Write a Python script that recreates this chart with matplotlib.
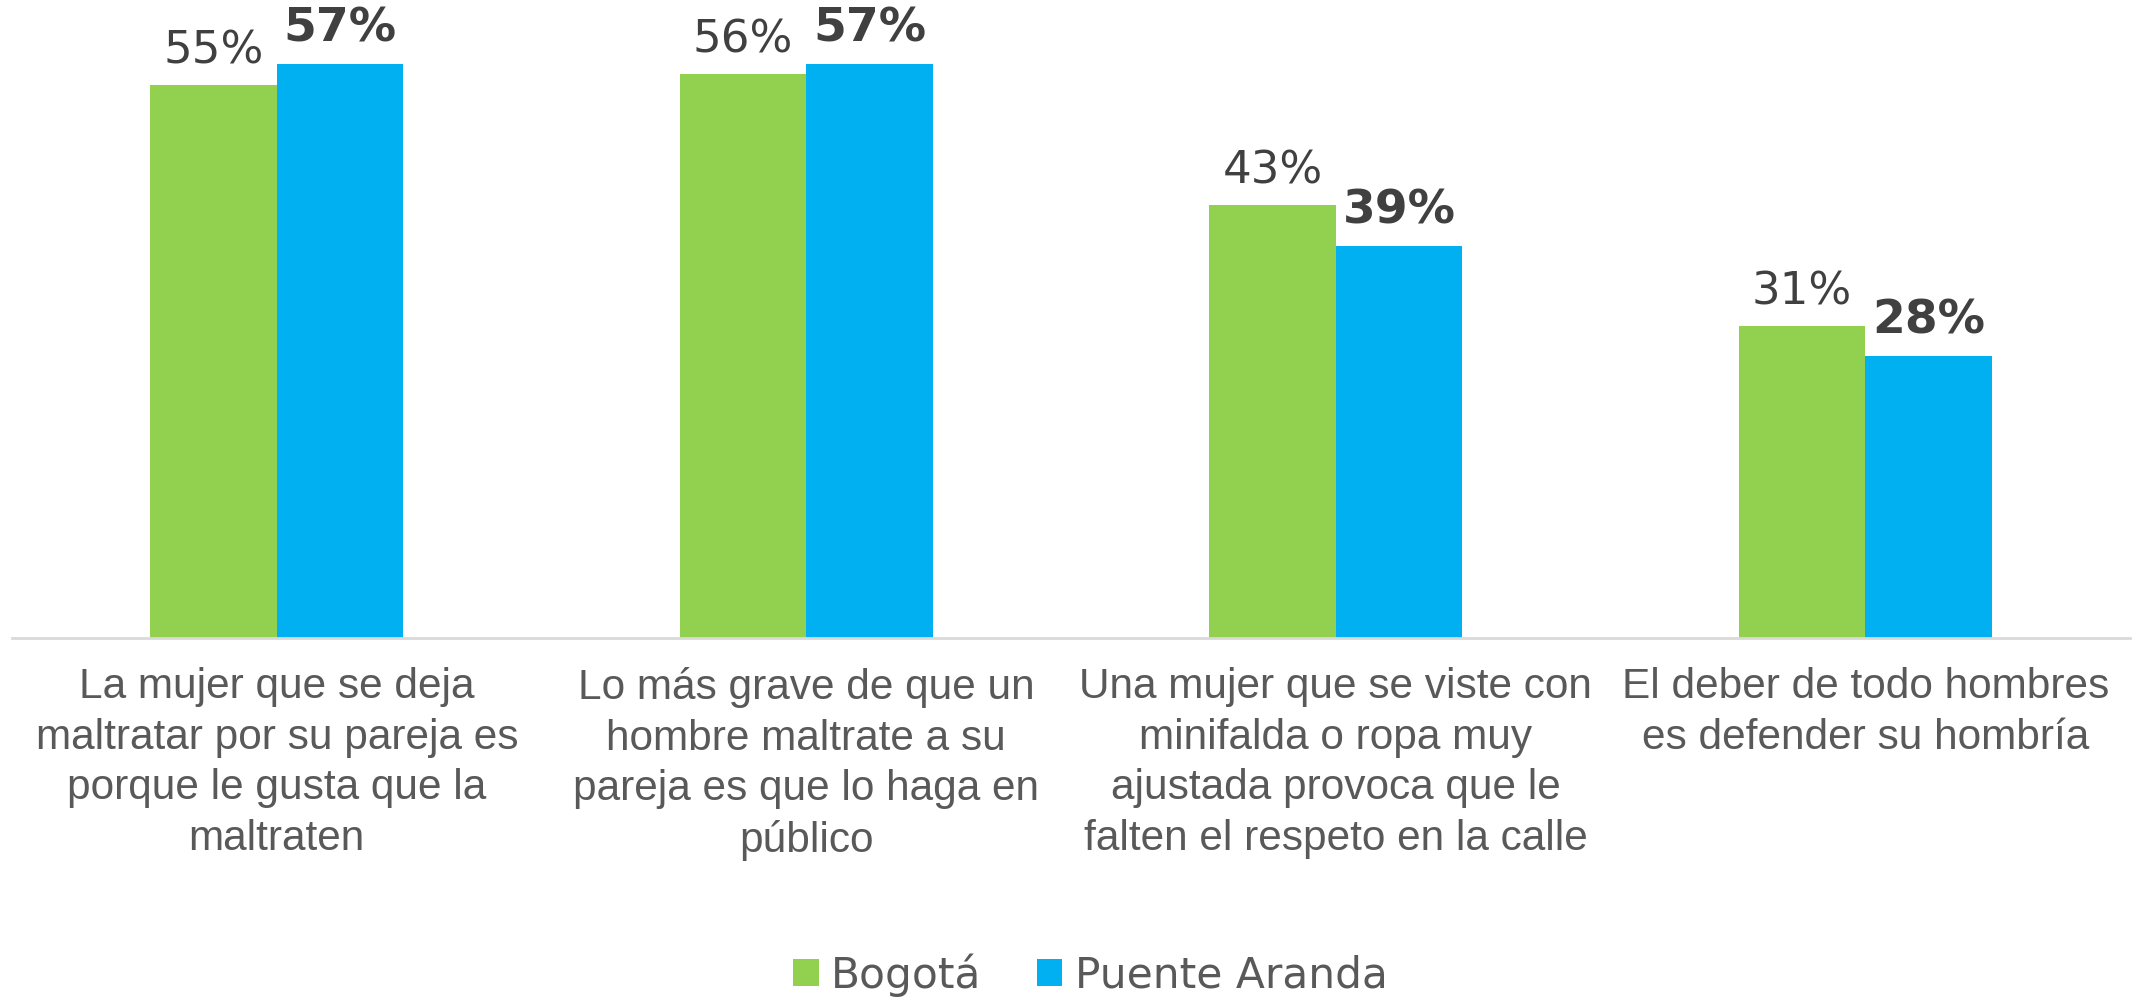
import numpy as np
import matplotlib
matplotlib.use('Agg')
import matplotlib.pyplot as plt

# data
categories = [
    'La mujer que se deja\nmaltratar por su pareja es\nporque le gusta que la\nmaltraten',
    'Lo más grave de que un\nhombre maltrate a su\npareja es que lo haga en\npúblico',
    'Una mujer que se viste con\nminifalda o ropa muy\najustada provoca que le\nfalten el respeto en la calle',
    'El deber de todo hombres\nes defender su hombría',
]
series_names = ['Bogotá', 'Puente Aranda']
bogota = [55, 56, 43, 31]
puente_aranda = [57, 57, 39, 28]

green = '#92D050'
blue = '#00B0F0'

fig = plt.figure(figsize=(21.34, 9.97), dpi=100)
ax = fig.add_axes([12 / 2134, 0.36, 2118 / 2134, 0.64])

x = np.arange(len(categories))
w = 0.239

b1 = ax.bar(x - w / 2, bogota, w, color=green, label=series_names[0])
b2 = ax.bar(x + w / 2, puente_aranda, w, color=blue, label=series_names[1])

ax.bar_label(b1, labels=[f'{v}%' for v in bogota], padding=9,
             fontsize=32.5, color='#404040', family='DejaVu Sans')
ax.bar_label(b2, labels=[f'{v}%' for v in puente_aranda], padding=9,
             fontsize=34, color='#404040', fontweight='bold', family='DejaVu Sans')

ax.set_xlim(-0.5, len(categories) - 0.5)
ax.set_ylim(0, 63.4)

ax.set_xticks(x)
ax.set_xticklabels(categories, fontsize=30.5, color='#595959',
                   family='Liberation Sans', linespacing=1.34)
ax.tick_params(axis='x', length=0, pad=21)
ax.set_yticks([])

for s in ['top', 'right', 'left']:
    ax.spines[s].set_visible(False)
ax.spines['bottom'].set_color('#d9d9d9')
ax.spines['bottom'].set_linewidth(2)

leg = fig.legend(loc='center', bbox_to_anchor=(0.511, 0.022), ncol=2, frameon=False,
                 prop={'family': 'DejaVu Sans', 'size': 30.5},
                 handlelength=0.6, handleheight=0.6, handletextpad=0.3,
                 columnspacing=1.3, borderaxespad=0)
for t in leg.get_texts():
    t.set_color('#595959')

fig.savefig('out.png', dpi=100)
